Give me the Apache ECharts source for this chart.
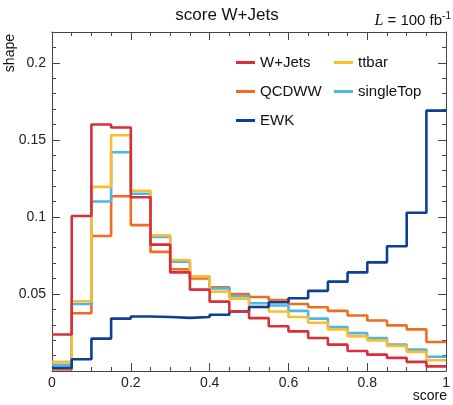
<!DOCTYPE html>
<html>
<head>
<meta charset="utf-8">
<script src="https://cdn.jsdelivr.net/npm/echarts@6/dist/echarts.min.js"></script>
<style>
html, body { margin: 0; padding: 0; background: #fff; }
#chart { width: 453px; height: 405px; }
</style>
</head>
<body>
<div id="chart"></div>
<script>
// bin edges of the score histogram (20 bins)
const binEdges = [0, 0.05, 0.1, 0.15, 0.2, 0.25, 0.3, 0.35, 0.4, 0.45, 0.5,
                  0.55, 0.6, 0.65, 0.7, 0.75, 0.8, 0.85, 0.9, 0.95, 1];

const wjets     = [0.0237, 0.1006, 0.160, 0.158, 0.1128, 0.082, 0.064, 0.0528, 0.045, 0.0386,
                   0.0343, 0.029, 0.0257, 0.0214, 0.0171, 0.013, 0.0106, 0.0085, 0.0059, 0.003];
const ttbar     = [0.0059, 0.0453, 0.1195, 0.153, 0.117, 0.088, 0.072, 0.0614, 0.0515, 0.047,
                   0.0415, 0.0386, 0.035, 0.0313, 0.027, 0.0225, 0.0199, 0.0163, 0.0124, 0.007];
const qcdww     = [0.001, 0.0375, 0.0876, 0.1134, 0.0947, 0.0773, 0.066, 0.060, 0.0543, 0.050,
                   0.048, 0.046, 0.0435, 0.0414, 0.039, 0.036, 0.0328, 0.0296, 0.027, 0.0188];
const singleTop = [0.004, 0.0435, 0.110, 0.142, 0.115, 0.087, 0.071, 0.0614, 0.0535, 0.0485,
                   0.044, 0.0425, 0.039, 0.034, 0.0285, 0.0246, 0.0214, 0.0171, 0.0139, 0.0092];
const ewk       = [0.002, 0.0076, 0.021, 0.034, 0.0354, 0.035, 0.0345, 0.035, 0.0365, 0.0386,
                   0.0415, 0.0446, 0.0472, 0.052, 0.058, 0.064, 0.0705, 0.081, 0.1027, 0.169];

const FONT = "'Liberation Sans', Arial, Helvetica, sans-serif";
const AXIS = '#444';

// step outline: one point per bin edge, last bin repeated at x = 1
function steps(vals) {
  return binEdges.map((x, i) => [x, vals[Math.min(i, vals.length - 1)]]);
}

function hist(name, vals, color) {
  return {
    name: name, type: 'line', step: 'end', data: steps(vals),
    xAxisIndex: 0, yAxisIndex: 0,
    showSymbol: false, symbol: 'none', color: color,
    lineStyle: { width: 2.6, color: color },
    emphasis: { disabled: true }, animation: false
  };
}

function xAx(pos, labels) {
  return {
    type: 'value', position: pos, min: 0, max: 1, interval: 0.2,
    axisLine: { show: true, onZero: false, lineStyle: { color: AXIS, width: 1 } },
    axisTick: { show: true, inside: true, length: 8, lineStyle: { color: AXIS } },
    minorTick: { show: true, splitNumber: 4, length: 4, lineStyle: { color: AXIS } },
    splitLine: { show: false },
    axisLabel: { show: labels, margin: 5, fontSize: 14, color: '#222', fontFamily: FONT }
  };
}

function yAx(pos, interval, len, labels) {
  return {
    type: 'value', position: pos, min: 0, max: 0.22, interval: interval,
    axisLine: { show: len > 5, onZero: false, lineStyle: { color: AXIS, width: 1 } },
    axisTick: { show: true, inside: true, length: len, lineStyle: { color: AXIS } },
    splitLine: { show: false },
    axisLabel: { show: labels, margin: 6, fontSize: 14, color: '#222', fontFamily: FONT,
                 showMinLabel: false, showMaxLabel: false }
  };
}

const chart = echarts.init(document.getElementById('chart'));
chart.setOption({
  backgroundColor: '#fff',
  animation: false,
  grid: { left: 52, right: 4, top: 32, bottom: 34 },
  xAxis: [xAx('bottom', true), xAx('top', false)],
  yAxis: [
    yAx('left', 0.05, 8, true),
    yAx('left', 0.01, 4, false),
    yAx('right', 0.05, 8, false),
    yAx('right', 0.01, 4, false)
  ],
  legend: [
    {
      data: ['W+Jets', 'QCDWW', 'EWK'], orient: 'vertical', left: 236, top: 55,
      icon: 'rect', itemWidth: 19, itemHeight: 3, itemGap: 14, padding: 0,
      selectedMode: false,
      textStyle: { fontSize: 15, lineHeight: 15, color: '#111', fontFamily: FONT }
    },
    {
      data: ['ttbar', 'singleTop'], orient: 'vertical', left: 334, top: 55,
      icon: 'rect', itemWidth: 19, itemHeight: 3, itemGap: 14, padding: 0,
      selectedMode: false,
      textStyle: { fontSize: 15, lineHeight: 15, color: '#111', fontFamily: FONT }
    }
  ],
  graphic: [
    {
      type: 'text', x: 227, y: 15,
      style: { text: 'score W+Jets', fontSize: 17, fontFamily: FONT, fill: '#111',
               align: 'center', verticalAlign: 'middle' }
    },
    {
      type: 'text', x: 451, y: 21,
      style: {
        text: '{i|L} = 100 fb{s|-1}', align: 'right', verticalAlign: 'middle',
        fontSize: 15, fontFamily: FONT, fill: '#111',
        rich: {
          i: { fontSize: 16, fontStyle: 'italic', fontFamily: "'Liberation Serif', serif", fill: '#111' },
          s: { fontSize: 10, fontFamily: FONT, fill: '#111', verticalAlign: 'top', padding: [0, 0, 9, 0] }
        }
      }
    },
    {
      type: 'text', x: 3, y: 34, rotation: Math.PI / 2,
      style: { text: 'shape', fontSize: 14, fontFamily: FONT, fill: '#111',
               align: 'right', verticalAlign: 'top' }
    },
    {
      type: 'text', x: 447, y: 396,
      style: { text: 'score', fontSize: 14, fontFamily: FONT, fill: '#111',
               align: 'right', verticalAlign: 'middle' }
    }
  ],
  series: [
    hist('QCDWW', qcdww, '#f26b21'),
    hist('singleTop', singleTop, '#4cb6e8'),
    hist('ttbar', ttbar, '#fbbd2e'),
    hist('EWK', ewk, '#0d3f94'),
    hist('W+Jets', wjets, '#d7303a')
  ]
});
</script>
</body>
</html>
